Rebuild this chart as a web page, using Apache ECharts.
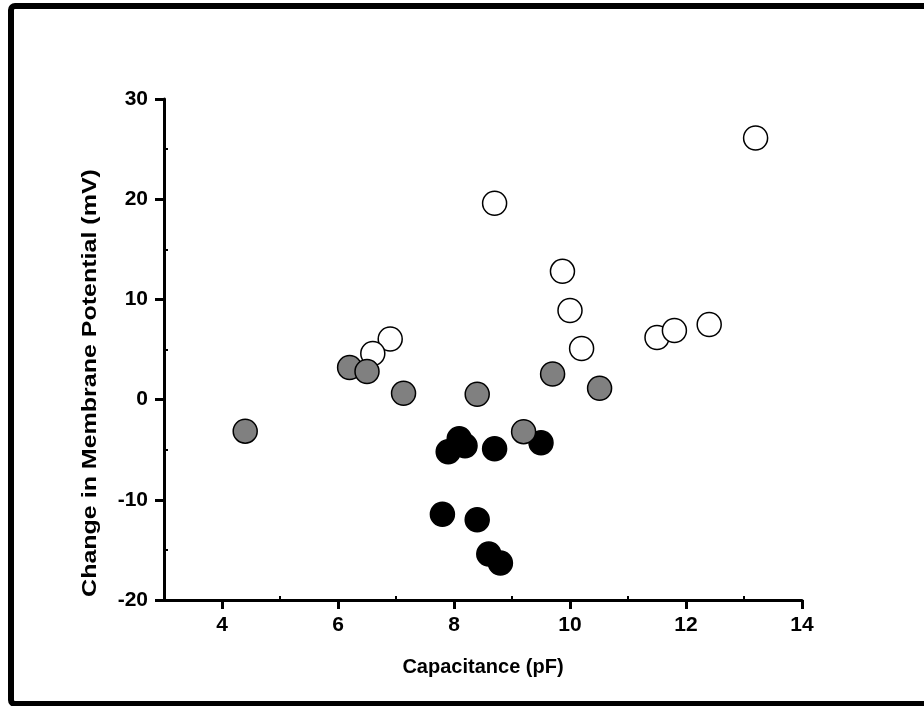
<!DOCTYPE html>
<html>
<head>
<meta charset="utf-8">
<script src="https://cdn.jsdelivr.net/npm/echarts@6/dist/echarts.min.js"></script>
<style>html,body{margin:0;padding:0;background:#fff}#c{width:924px;height:706px}</style>
</head>
<body>
<div id="c"></div>
<script>
// Open circles
const whiteX = [13.2, 8.7, 9.87, 10.0, 10.2, 11.5, 11.8, 12.4, 6.9, 6.6];
const whiteY = [26.1, 19.6, 12.8, 8.9, 5.1, 6.2, 6.9, 7.5, 6.05, 4.6];
// Black circles
const blackX = [8.09, 8.19, 7.9, 8.7, 9.5, 7.8, 8.4, 8.6, 8.8];
const blackY = [-3.9, -4.6, -5.2, -4.9, -4.3, -11.45, -12.0, -15.4, -16.3];
// Gray circles
const grayX = [4.4, 6.2, 6.5, 7.13, 8.4, 9.7, 10.51, 9.2];
const grayY = [-3.15, 3.2, 2.8, 0.63, 0.53, 2.55, 1.13, -3.2];

const xTicks = [4, 6, 8, 10, 12, 14];
const xMinorTicks = [5, 7, 9, 11, 13];
const yTicks = [-20, -10, 0, 10, 20, 30];
const yMinorTicks = [-15, -5, 5, 15, 25];

const xTitle = 'Capacitance (pF)';
const yTitle = 'Change in Membrane Potential (mV)';

const zip = (xs, ys) => xs.map((x, i) => [x, ys[i]]);
const font = 'Liberation Sans, Arial, Helvetica, sans-serif';

const chart = echarts.init(document.getElementById('c'), null, {renderer: 'canvas'});
const axisLine = {show: true, onZero: false, lineStyle: {color: '#000', width: 3}};
chart.setOption({
  animation: false,
  backgroundColor: '#fff',
  grid: {left: 164, right: 122, top: 99, bottom: 106, containLabel: false},
  xAxis: [{
    type: 'value', min: 3, max: 14,
    axisLine: axisLine,
    splitLine: {show: false},
    axisTick: {show: true, customValues: xTicks, length: 9, lineStyle: {color: '#000', width: 3}},
    axisLabel: {customValues: xTicks, margin: 15, color: '#000', fontSize: 21, fontWeight: 'bold', fontFamily: font},
    name: xTitle, nameLocation: 'middle', nameGap: 57,
    nameTextStyle: {color: '#000', fontSize: 20, fontWeight: 'bold', fontFamily: font}
  }, {
    type: 'value', min: 3, max: 14, position: 'bottom',
    axisLine: {show: false, onZero: false}, splitLine: {show: false}, axisLabel: {show: false},
    axisTick: {show: true, inside: true, customValues: xMinorTicks, length: 4, lineStyle: {color: '#000', width: 2}}
  }],
  yAxis: [{
    type: 'value', min: -20, max: 30, interval: 10,
    axisLine: axisLine,
    splitLine: {show: false},
    axisTick: {show: true, customValues: yTicks, length: 9, lineStyle: {color: '#000', width: 3}},
    axisLabel: {customValues: yTicks, margin: 16, color: '#000', fontSize: 21, fontWeight: 'bold', fontFamily: font}
  }, {
    type: 'value', min: -20, max: 30, position: 'left',
    axisLine: {show: false, onZero: false}, splitLine: {show: false}, axisLabel: {show: false},
    axisTick: {show: true, inside: true, customValues: yMinorTicks, length: 4, lineStyle: {color: '#000', width: 2}}
  }],
  graphic: [{
    type: 'rect', silent: true, z: 100,
    shape: {x: 11, y: 6, width: 930, height: 698, r: 4},
    style: {fill: 'none', stroke: '#000', lineWidth: 6}
  }, {
    type: 'text', silent: true, x: 90, y: 383, rotation: Math.PI / 2,
    style: {text: yTitle, fill: '#000', fontSize: 20, fontWeight: 'bold', fontFamily: font,
            align: 'center', verticalAlign: 'middle'},
    scaleX: 1.25
  }],
  series: [{
    type: 'scatter', name: 'open', data: zip(whiteX, whiteY), symbolSize: 24,
    itemStyle: {color: '#fff', borderColor: '#000', borderWidth: 1.5, opacity: 1}, z: 2
  }, {
    type: 'scatter', name: 'filled', data: zip(blackX, blackY), symbolSize: 24,
    itemStyle: {color: '#000', borderColor: '#000', borderWidth: 1.5, opacity: 1}, z: 3
  }, {
    type: 'scatter', name: 'gray', data: zip(grayX, grayY), symbolSize: 24,
    itemStyle: {color: '#808080', borderColor: '#000', borderWidth: 1.5, opacity: 1}, z: 4
  }]
});
</script>
</body>
</html>
